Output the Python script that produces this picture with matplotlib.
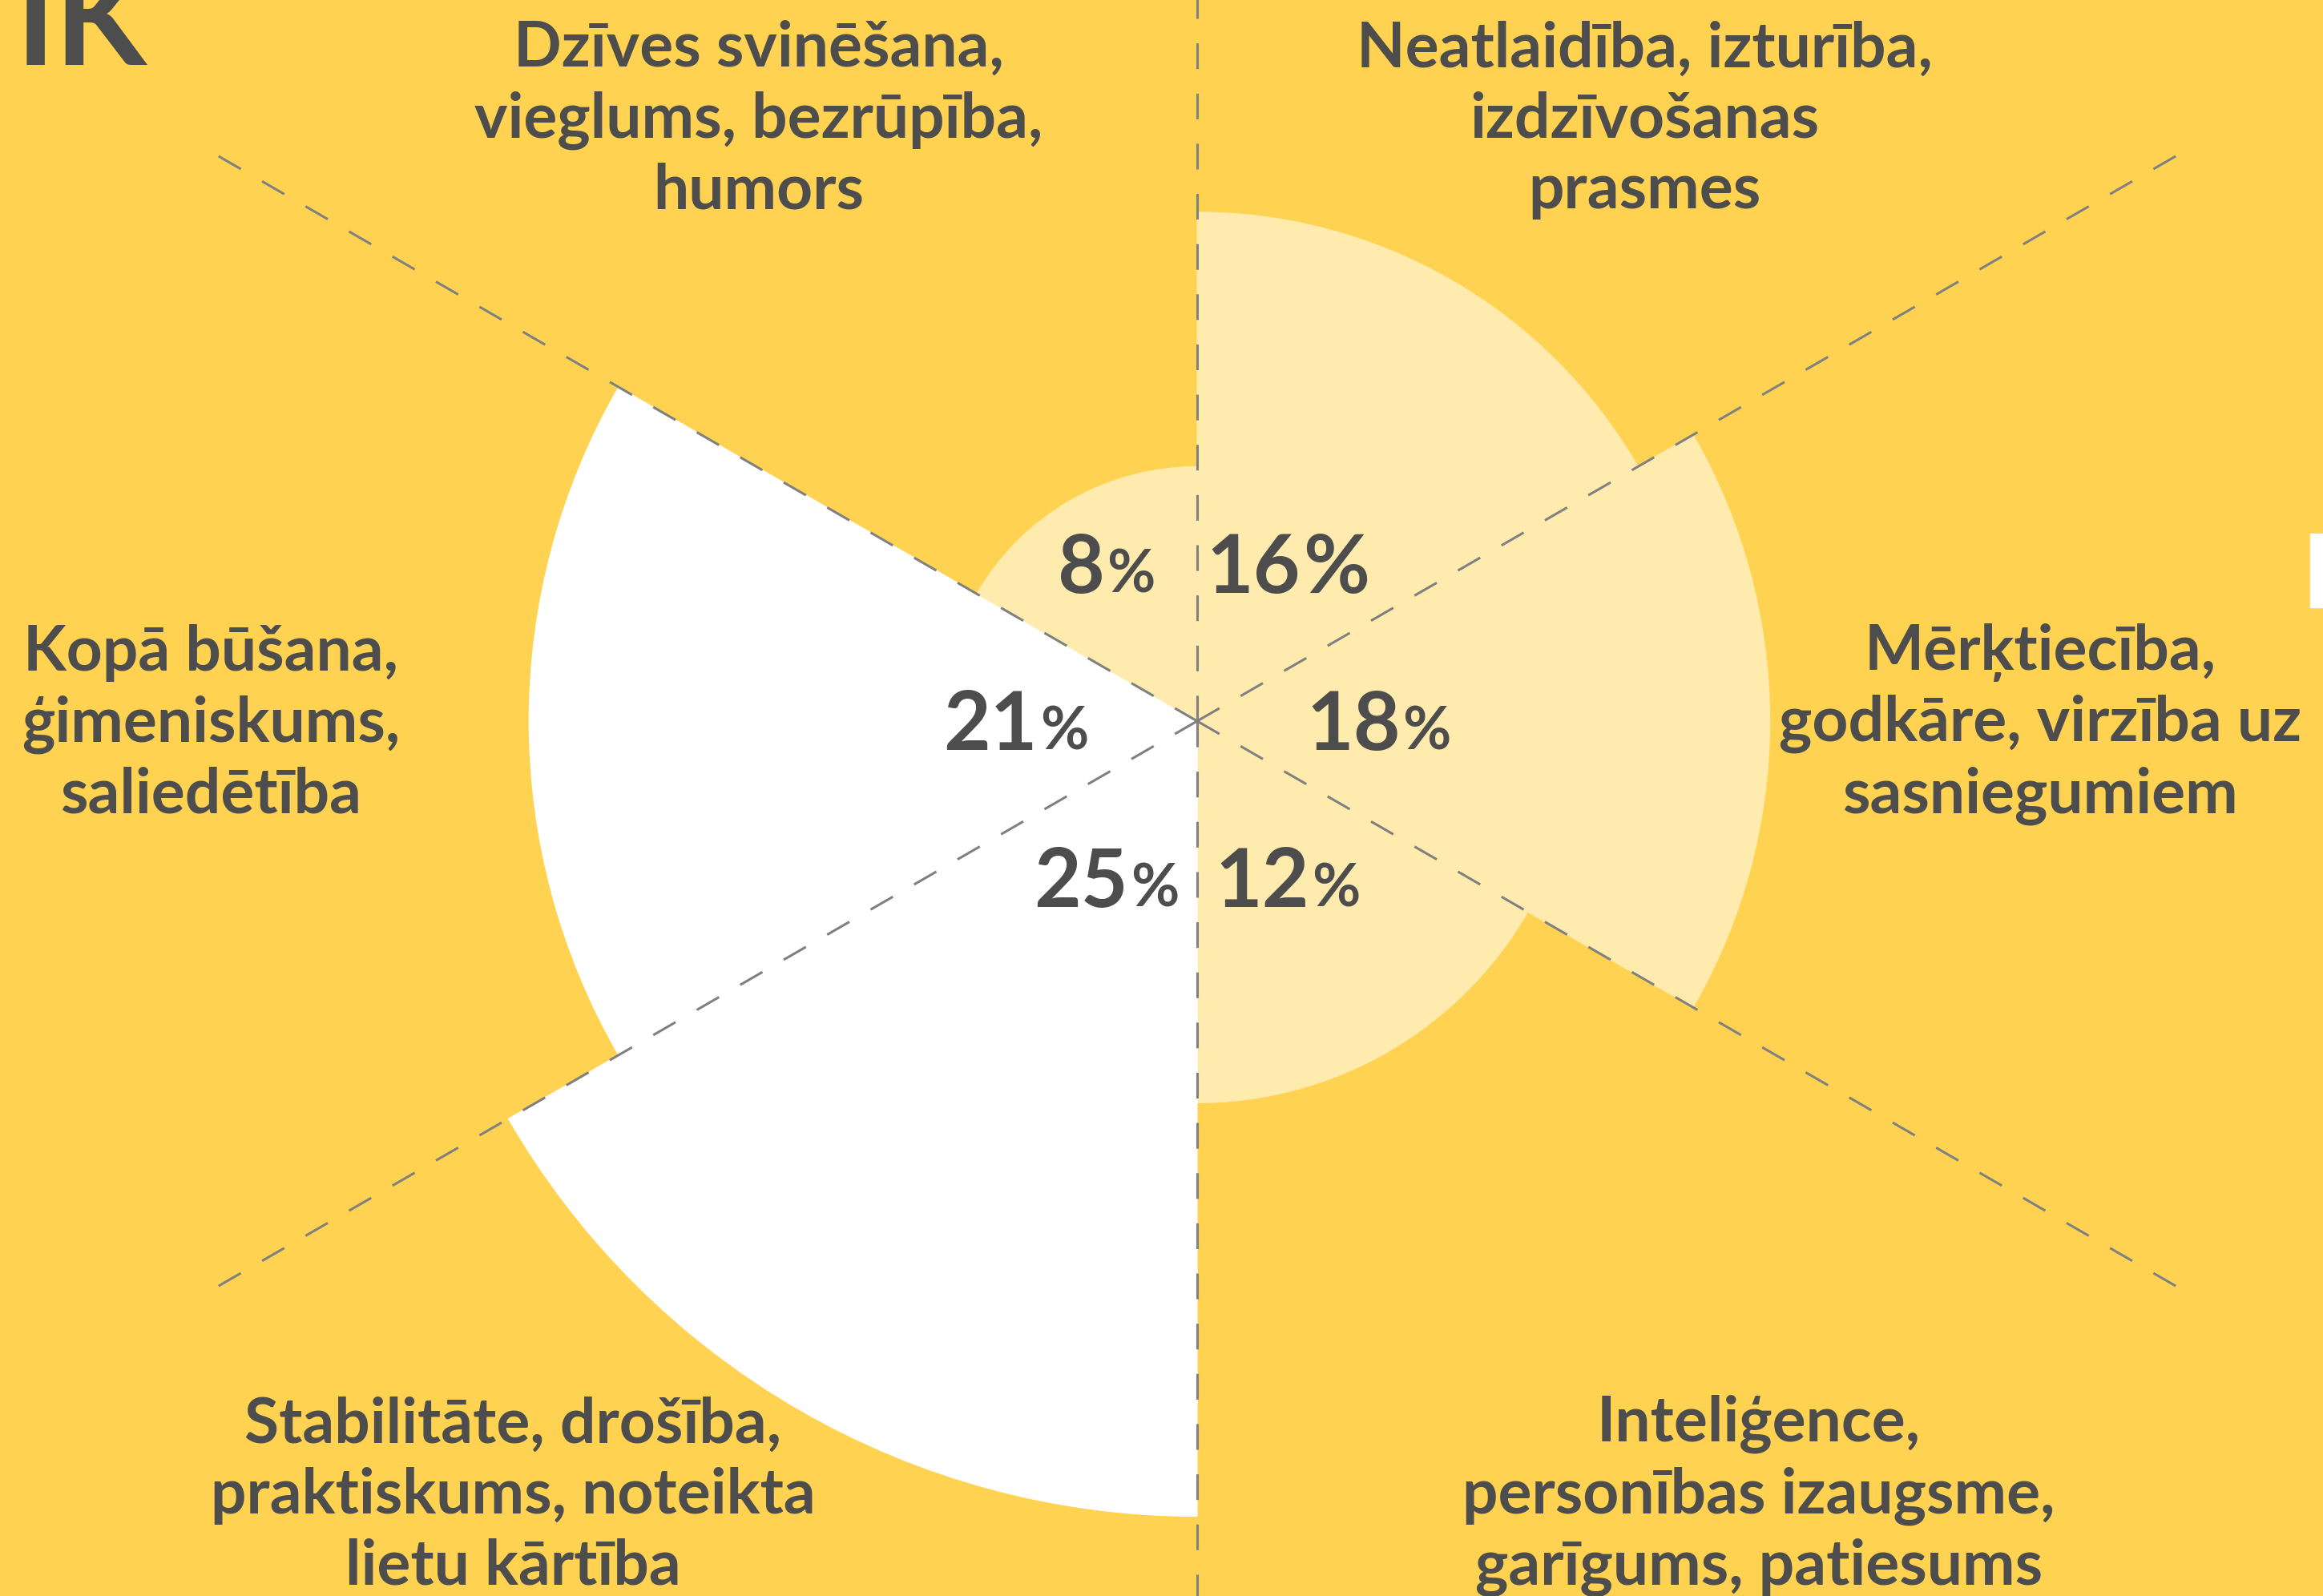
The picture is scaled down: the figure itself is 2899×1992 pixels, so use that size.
import numpy as np
import matplotlib
matplotlib.use("Agg")
import matplotlib.pyplot as plt
from matplotlib.offsetbox import TextArea, HPacker, AnnotationBbox
from matplotlib.patches import Rectangle

# Dati (pulksteņrādītāja virzienā no augšas)
categories = [
    "Neatlaidība, izturība,\nizdzīvošanas\nprasmes",
    "Mērķtiecība,\ngodkāre, virzība uz\nsasniegumiem",
    "Inteliģence,\npersonības izaugsme,\ngarīgums, patiesums",
    "Stabilitāte, drošība,\npraktiskums, noteikta\nlietu kārtība",
    "Kopā būšana,\nģimeniskums,\nsaliedētība",
    "Dzīves svinēšana,\nvieglums, bezrūpība,\nhumors",
]
values = [16, 18, 12, 25, 21, 8]

BG = "#FFD351"
LIGHT = "#FFEBAE"
WHITE = "#FFFFFF"
TXT = "#4D4D4D"
DASH = "#808080"
FONT = "Lato"

colors = [LIGHT, LIGHT, LIGHT, WHITE, WHITE, LIGHT]
small_pct = [False, True, True, True, True, True]
# etiķešu centri pikseļos (x, y no augšas)
label_pos = [(2052, 150), (2546, 904), (2195, 1867), (640, 1867), (263, 904), (947, 150)]

W, H = 2899, 1992
fig = plt.figure(figsize=(W / 100, H / 100), dpi=100)
fig.patch.set_facecolor(BG)

# polārās asis: centrs (1494, 900), 1% = 39.7 px
cx, cy = 1494, 900
rmax = 60
side = 2 * rmax * 39.7
ax = fig.add_axes([(cx - side / 2) / W, (H - cy - side / 2) / H, side / W, side / H],
                  projection="polar")
ax.set_theta_zero_location("N")
ax.set_theta_direction(-1)
ax.set_ylim(0, rmax)
ax.set_axis_off()

width = 2 * np.pi / len(values)
theta = np.arange(len(values)) * width + width / 2
ax.bar(theta, values, width=width, bottom=0, color=colors,
       edgecolor=colors, linewidth=0.8, zorder=1)

# raustītās līnijas
dash = (0, (10.5, 10))
for i in range(len(values)):
    a = i * width
    r_end = 40 if i % 3 == 0 else 35.8
    ax.plot([a, a], [0, r_end], color=DASH, lw=2.2, linestyle=dash, zorder=2)

# procentu etiķetes
for t, v, sm in zip(theta, values, small_pct):
    big = TextArea(str(v), textprops=dict(fontsize=73, fontweight="bold",
                                          color=TXT, family=FONT))
    pc = TextArea("%", textprops=dict(fontsize=53 if sm else 73, fontweight="bold",
                                      color=TXT, family=FONT))
    box = HPacker(children=[big, pc], align="baseline", pad=0, sep=2)
    ab = AnnotationBbox(box, (t, 5.7), xycoords="data", xybox=(0, -5),
                        boxcoords="offset points", frameon=False,
                        box_alignment=(0.5, 0.5), zorder=3)
    ax.add_artist(ab)

# kategoriju nosaukumi
for txt, (px, py) in zip(categories, label_pos):
    fig.text(px / W, 1 - py / H, txt, ha="center", va="center",
             multialignment="center", fontsize=56.5, fontweight="bold",
             color=TXT, family=FONT, linespacing=1.28)

# nogrieztais virsraksts un mala
fig.text(20 / W, 1 - 81 / H, "IK", ha="left", va="baseline", fontsize=120,
         fontweight="bold", color=TXT, family=FONT)
fig.patches.append(Rectangle((2883 / W, 1 - 758 / H), 16 / W, 92 / H,
                             transform=fig.transFigure, color=WHITE))

fig.savefig("out.png", dpi=100, facecolor=BG)
